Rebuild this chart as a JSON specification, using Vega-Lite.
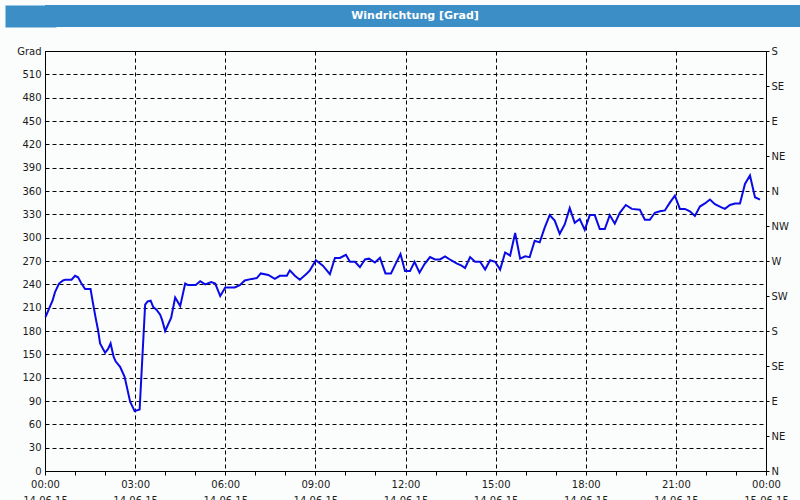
{
  "$schema": "https://vega.github.io/schema/vega-lite/v6.json",
  "padding": 0,
  "background": "#fbfdfc",
  "spacing": 13,
  "config": {
    "font": "DejaVu Sans",
    "axis": {"labelFont": "DejaVu Sans", "labelFontSize": 10, "labelColor": "#1a1a1a"}
  },
  "datasets": {
    "wind": [
      {"t": "2015-06-14T00:01", "v": 198}, {"t": "2015-06-14T00:09", "v": 210}, {"t": "2015-06-14T00:15", "v": 219},
      {"t": "2015-06-14T00:20", "v": 230}, {"t": "2015-06-14T00:28", "v": 241}, {"t": "2015-06-14T00:36", "v": 245},
      {"t": "2015-06-14T00:41", "v": 246}, {"t": "2015-06-14T00:53", "v": 246}, {"t": "2015-06-14T01:00", "v": 251},
      {"t": "2015-06-14T01:06", "v": 249}, {"t": "2015-06-14T01:12", "v": 242}, {"t": "2015-06-14T01:20", "v": 234},
      {"t": "2015-06-14T01:31", "v": 234}, {"t": "2015-06-14T01:36", "v": 215}, {"t": "2015-06-14T01:42", "v": 194},
      {"t": "2015-06-14T01:46", "v": 181}, {"t": "2015-06-14T01:50", "v": 164}, {"t": "2015-06-14T02:00", "v": 152},
      {"t": "2015-06-14T02:06", "v": 157}, {"t": "2015-06-14T02:11", "v": 164}, {"t": "2015-06-14T02:17", "v": 147},
      {"t": "2015-06-14T02:21", "v": 141}, {"t": "2015-06-14T02:30", "v": 134}, {"t": "2015-06-14T02:39", "v": 121},
      {"t": "2015-06-14T02:50", "v": 89}, {"t": "2015-06-14T02:59", "v": 77}, {"t": "2015-06-14T03:09", "v": 79},
      {"t": "2015-06-14T03:20", "v": 214}, {"t": "2015-06-14T03:25", "v": 218}, {"t": "2015-06-14T03:31", "v": 219},
      {"t": "2015-06-14T03:36", "v": 211}, {"t": "2015-06-14T03:43", "v": 207}, {"t": "2015-06-14T03:50", "v": 201},
      {"t": "2015-06-14T03:54", "v": 194}, {"t": "2015-06-14T04:00", "v": 180}, {"t": "2015-06-14T04:12", "v": 197},
      {"t": "2015-06-14T04:20", "v": 223}, {"t": "2015-06-14T04:30", "v": 212}, {"t": "2015-06-14T04:40", "v": 241},
      {"t": "2015-06-14T04:46", "v": 239}, {"t": "2015-06-14T05:01", "v": 239}, {"t": "2015-06-14T05:10", "v": 244},
      {"t": "2015-06-14T05:20", "v": 240}, {"t": "2015-06-14T05:32", "v": 243}, {"t": "2015-06-14T05:40", "v": 241},
      {"t": "2015-06-14T05:50", "v": 225}, {"t": "2015-06-14T06:00", "v": 236}, {"t": "2015-06-14T06:19", "v": 236},
      {"t": "2015-06-14T06:29", "v": 239}, {"t": "2015-06-14T06:39", "v": 245}, {"t": "2015-06-14T06:53", "v": 247},
      {"t": "2015-06-14T07:03", "v": 248}, {"t": "2015-06-14T07:11", "v": 254}, {"t": "2015-06-14T07:26", "v": 252},
      {"t": "2015-06-14T07:39", "v": 247}, {"t": "2015-06-14T07:49", "v": 251}, {"t": "2015-06-14T08:03", "v": 251},
      {"t": "2015-06-14T08:09", "v": 258}, {"t": "2015-06-14T08:19", "v": 251}, {"t": "2015-06-14T08:29", "v": 246},
      {"t": "2015-06-14T08:43", "v": 254}, {"t": "2015-06-14T08:49", "v": 258}, {"t": "2015-06-14T09:01", "v": 271},
      {"t": "2015-06-14T09:15", "v": 264}, {"t": "2015-06-14T09:29", "v": 253}, {"t": "2015-06-14T09:39", "v": 274},
      {"t": "2015-06-14T09:49", "v": 274}, {"t": "2015-06-14T10:01", "v": 278}, {"t": "2015-06-14T10:09", "v": 269},
      {"t": "2015-06-14T10:19", "v": 269}, {"t": "2015-06-14T10:29", "v": 262}, {"t": "2015-06-14T10:39", "v": 272},
      {"t": "2015-06-14T10:47", "v": 273}, {"t": "2015-06-14T10:59", "v": 268}, {"t": "2015-06-14T11:09", "v": 274},
      {"t": "2015-06-14T11:20", "v": 254}, {"t": "2015-06-14T11:31", "v": 254}, {"t": "2015-06-14T11:40", "v": 266},
      {"t": "2015-06-14T11:50", "v": 279}, {"t": "2015-06-14T11:59", "v": 257}, {"t": "2015-06-14T12:09", "v": 257},
      {"t": "2015-06-14T12:18", "v": 269}, {"t": "2015-06-14T12:28", "v": 255}, {"t": "2015-06-14T12:38", "v": 266},
      {"t": "2015-06-14T12:49", "v": 275}, {"t": "2015-06-14T12:59", "v": 272}, {"t": "2015-06-14T13:09", "v": 272},
      {"t": "2015-06-14T13:19", "v": 276}, {"t": "2015-06-14T13:31", "v": 271}, {"t": "2015-06-14T13:42", "v": 267},
      {"t": "2015-06-14T13:52", "v": 264}, {"t": "2015-06-14T13:59", "v": 261}, {"t": "2015-06-14T14:09", "v": 275},
      {"t": "2015-06-14T14:19", "v": 269}, {"t": "2015-06-14T14:29", "v": 269}, {"t": "2015-06-14T14:39", "v": 259},
      {"t": "2015-06-14T14:49", "v": 271}, {"t": "2015-06-14T14:59", "v": 269}, {"t": "2015-06-14T15:09", "v": 259},
      {"t": "2015-06-14T15:19", "v": 281}, {"t": "2015-06-14T15:29", "v": 277}, {"t": "2015-06-14T15:39", "v": 306},
      {"t": "2015-06-14T15:49", "v": 273}, {"t": "2015-06-14T15:59", "v": 276}, {"t": "2015-06-14T16:08", "v": 275},
      {"t": "2015-06-14T16:18", "v": 296}, {"t": "2015-06-14T16:28", "v": 294}, {"t": "2015-06-14T16:38", "v": 313},
      {"t": "2015-06-14T16:48", "v": 329}, {"t": "2015-06-14T16:58", "v": 322}, {"t": "2015-06-14T17:08", "v": 305},
      {"t": "2015-06-14T17:18", "v": 317}, {"t": "2015-06-14T17:28", "v": 338}, {"t": "2015-06-14T17:38", "v": 319},
      {"t": "2015-06-14T17:48", "v": 324}, {"t": "2015-06-14T17:58", "v": 310}, {"t": "2015-06-14T18:08", "v": 329},
      {"t": "2015-06-14T18:18", "v": 329}, {"t": "2015-06-14T18:28", "v": 311}, {"t": "2015-06-14T18:38", "v": 311},
      {"t": "2015-06-14T18:48", "v": 329}, {"t": "2015-06-14T18:58", "v": 318}, {"t": "2015-06-14T19:08", "v": 332},
      {"t": "2015-06-14T19:20", "v": 342}, {"t": "2015-06-14T19:32", "v": 337}, {"t": "2015-06-14T19:48", "v": 336},
      {"t": "2015-06-14T19:58", "v": 323}, {"t": "2015-06-14T20:08", "v": 323}, {"t": "2015-06-14T20:18", "v": 332},
      {"t": "2015-06-14T20:28", "v": 334}, {"t": "2015-06-14T20:38", "v": 335}, {"t": "2015-06-14T20:48", "v": 345},
      {"t": "2015-06-14T20:58", "v": 354}, {"t": "2015-06-14T21:08", "v": 337}, {"t": "2015-06-14T21:18", "v": 337},
      {"t": "2015-06-14T21:28", "v": 334}, {"t": "2015-06-14T21:38", "v": 328}, {"t": "2015-06-14T21:48", "v": 340},
      {"t": "2015-06-14T21:58", "v": 344}, {"t": "2015-06-14T22:08", "v": 349}, {"t": "2015-06-14T22:18", "v": 343},
      {"t": "2015-06-14T22:31", "v": 339}, {"t": "2015-06-14T22:38", "v": 337}, {"t": "2015-06-14T22:48", "v": 342},
      {"t": "2015-06-14T22:58", "v": 344}, {"t": "2015-06-14T23:08", "v": 344}, {"t": "2015-06-14T23:18", "v": 369},
      {"t": "2015-06-14T23:28", "v": 380}, {"t": "2015-06-14T23:38", "v": 352}, {"t": "2015-06-14T23:48", "v": 349}
    ]
  },
  "vconcat": [
    {
      "width": 760,
      "height": 22,
      "view": {"fill": "#3c8fc6", "stroke": null},
      "data": {"values": [{"label": "Windrichtung [Grad]"}]},
      "mark": {"type": "text", "color": "white", "font": "DejaVu Sans", "fontSize": 11, "fontWeight": "bold", "baseline": "middle", "align": "center", "dx": -10},
      "encoding": {
        "text": {"field": "label"},
        "y": {
          "datum": 0, "type": "quantitative",
          "scale": {"domain": [-1, 1]},
          "axis": {"title": null, "labels": false, "domain": false, "grid": false, "values": [0], "tickCount": 5, "ticks": true, "tickSize": 29, "tickWidth": 22, "tickColor": "#3c8fc6", "tickCap": "square", "labelPadding": 0, "minExtent": 40, "maxExtent": 40}
        }
      }
    },
    {
      "width": 721,
      "height": 420,
      "view": {"stroke": "#000000", "strokeWidth": 1},
      "data": {"name": "wind"},
      "layer": [
        {
          "mark": {"type": "line", "color": "#0a0ae6", "strokeWidth": 2},
          "encoding": {
            "x": {
              "field": "t", "type": "temporal",
              "scale": {"domain": [{"year": 2015, "month": 6, "date": 14, "hours": 0}, {"year": 2015, "month": 6, "date": 15, "hours": 0}], "nice": false},
              "axis": {
                "title": null,
                "tickCount": 60,
                "values": [
                  {"year": 2015, "month": 6, "date": 14, "hours": 0}, {"year": 2015, "month": 6, "date": 14, "hours": 1},
                  {"year": 2015, "month": 6, "date": 14, "hours": 2}, {"year": 2015, "month": 6, "date": 14, "hours": 3},
                  {"year": 2015, "month": 6, "date": 14, "hours": 4}, {"year": 2015, "month": 6, "date": 14, "hours": 5},
                  {"year": 2015, "month": 6, "date": 14, "hours": 6}, {"year": 2015, "month": 6, "date": 14, "hours": 7},
                  {"year": 2015, "month": 6, "date": 14, "hours": 8}, {"year": 2015, "month": 6, "date": 14, "hours": 9},
                  {"year": 2015, "month": 6, "date": 14, "hours": 10}, {"year": 2015, "month": 6, "date": 14, "hours": 11},
                  {"year": 2015, "month": 6, "date": 14, "hours": 12}, {"year": 2015, "month": 6, "date": 14, "hours": 13},
                  {"year": 2015, "month": 6, "date": 14, "hours": 14}, {"year": 2015, "month": 6, "date": 14, "hours": 15},
                  {"year": 2015, "month": 6, "date": 14, "hours": 16}, {"year": 2015, "month": 6, "date": 14, "hours": 17},
                  {"year": 2015, "month": 6, "date": 14, "hours": 18}, {"year": 2015, "month": 6, "date": 14, "hours": 19},
                  {"year": 2015, "month": 6, "date": 14, "hours": 20}, {"year": 2015, "month": 6, "date": 14, "hours": 21},
                  {"year": 2015, "month": 6, "date": 14, "hours": 22}, {"year": 2015, "month": 6, "date": 14, "hours": 23},
                  {"year": 2015, "month": 6, "date": 15, "hours": 0}
                ],
                "labelExpr": "hours(datum.value) % 3 == 0 ? [timeFormat(datum.value, '%H:%M'), timeFormat(datum.value, '%d.%m.%y')] : ''",
                "labelOverlap": false,
                "labelFlush": false,
                "labelBaseline": "top",
                "labelLineHeight": 16,
                "labelPadding": 4,
                "tickSize": 4,
                "tickColor": "#000000",
                "domainColor": "#000000",
                "grid": true,
                "gridColor": "#000000",
                "gridDash": [4, 3],
                "gridOpacity": {"condition": {"test": "hours(datum.value) % 3 == 0", "value": 1}, "value": 0}
              }
            },
            "y": {
              "field": "v", "type": "quantitative",
              "scale": {"domain": [0, 540], "nice": false},
              "axis": {
                "title": null,
                "tickCount": 40,
                "values": [0, 30, 60, 90, 120, 150, 180, 210, 240, 270, 300, 330, 360, 390, 420, 450, 480, 510, 540],
                "labelExpr": "datum.value == 540 ? 'Grad' : datum.label",
                "ticks": false,
                "labelPadding": 4,
                "minExtent": 40,
                "maxExtent": 40,
                "domainColor": "#000000",
                "grid": true,
                "gridColor": "#000000",
                "gridDash": [4, 3]
              }
            }
          }
        },
        {
          "mark": {"type": "line", "opacity": 0},
          "encoding": {
            "x": {"field": "t", "type": "temporal"},
            "y": {
              "field": "v", "type": "quantitative",
              "axis": {
                "orient": "right",
                "title": null,
                "grid": false,
                "tickCount": 40,
                "values": [0, 45, 90, 135, 180, 225, 270, 315, 360, 405, 450, 495, 540],
                "labelExpr": "['N','NE','E','SE','S','SW','W','NW'][round(datum.value / 45) % 8]",
                "tickSize": 3,
                "tickColor": "#000000",
                "labelPadding": 2,
                "domainColor": "#000000"
              }
            }
          }
        }
      ],
      "resolve": {"axis": {"y": "independent"}}
    }
  ]
}
